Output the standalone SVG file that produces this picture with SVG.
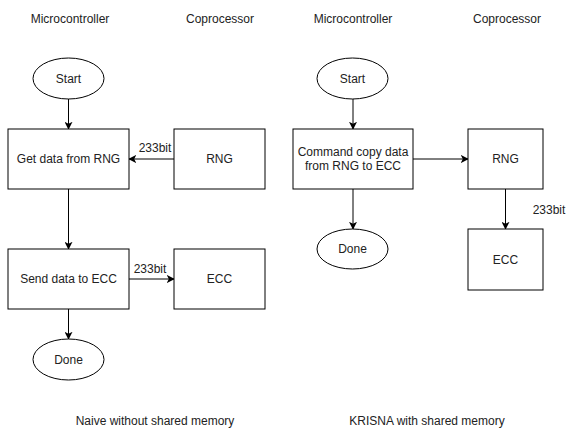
<svg xmlns="http://www.w3.org/2000/svg" width="567" height="430" viewBox="0 0 567 430">
<style>
text{font-family:"Liberation Sans",Arial,sans-serif;font-size:12px;fill:#222;text-anchor:middle;dominant-baseline:central}
.n{fill:#fff;stroke:#000;stroke-width:1}
.c{fill:none;stroke:#000;stroke-width:1;marker-end:url(#ah)}
</style>
<defs>
<marker id="ah" viewBox="0 0 10 10" refX="9" refY="5" markerWidth="8" markerHeight="8" markerUnits="userSpaceOnUse" orient="auto">
<path d="M0,0 L10,5 L0,10 L2.5,5 Z" fill="#000"/>
</marker>
</defs>
<rect width="567" height="430" fill="#fff"/>
<g id="labels">
<text x="70" y="19">Microcontroller</text>
<text x="220" y="19">Coprocessor</text>
<text x="353" y="19">Microcontroller</text>
<text x="507" y="19">Coprocessor</text>
<text x="155" y="421">Naive without shared memory</text>
<text x="427" y="421">KRISNA with shared memory</text>
</g>
<g id="connectors">
<path class="c" d="M68.5,99 V129"/>
<path class="c" d="M174,159 H129"/>
<path class="c" d="M68.5,189 V249"/>
<path class="c" d="M129,279 H174"/>
<path class="c" d="M68.5,309 V339"/>
<path class="c" d="M353,99 V129"/>
<path class="c" d="M413,159 H468"/>
<path class="c" d="M353,189 V229"/>
<path class="c" d="M505.5,189 V229"/>
<text x="155" y="148">233bit</text>
<text x="150" y="269">233bit</text>
<text x="549" y="210">233bit</text>
</g>
<g id="start1"><ellipse class="n" cx="68.5" cy="78.5" rx="35.5" ry="20.5"/><text x="68.5" y="78.5">Start</text></g>
<g id="get"><rect class="n" x="8" y="129" width="121" height="60"/><text x="68.5" y="159">Get data from RNG</text></g>
<g id="rng1"><rect class="n" x="174" y="129" width="91" height="60"/><text x="219.5" y="159">RNG</text></g>
<g id="send"><rect class="n" x="8" y="249" width="121" height="60"/><text x="68.5" y="279">Send data to ECC</text></g>
<g id="ecc1"><rect class="n" x="174" y="249" width="91" height="60"/><text x="219.5" y="279">ECC</text></g>
<g id="done1"><ellipse class="n" cx="68.5" cy="359.5" rx="35.5" ry="20.5"/><text x="68.5" y="359.5">Done</text></g>
<g id="start2"><ellipse class="n" cx="352.5" cy="78.5" rx="35.5" ry="20.5"/><text x="352.5" y="78.5">Start</text></g>
<g id="cmd"><rect class="n" x="293" y="129" width="120" height="60"/><text x="353" y="152">Command copy data</text><text x="353" y="166">from RNG to ECC</text></g>
<g id="rng2"><rect class="n" x="468" y="129" width="75" height="60"/><text x="505.5" y="159">RNG</text></g>
<g id="done2"><ellipse class="n" cx="352.5" cy="249" rx="35.5" ry="20"/><text x="352.5" y="249">Done</text></g>
<g id="ecc2"><rect class="n" x="468" y="229" width="75" height="61"/><text x="505.5" y="259.5">ECC</text></g>
</svg>
